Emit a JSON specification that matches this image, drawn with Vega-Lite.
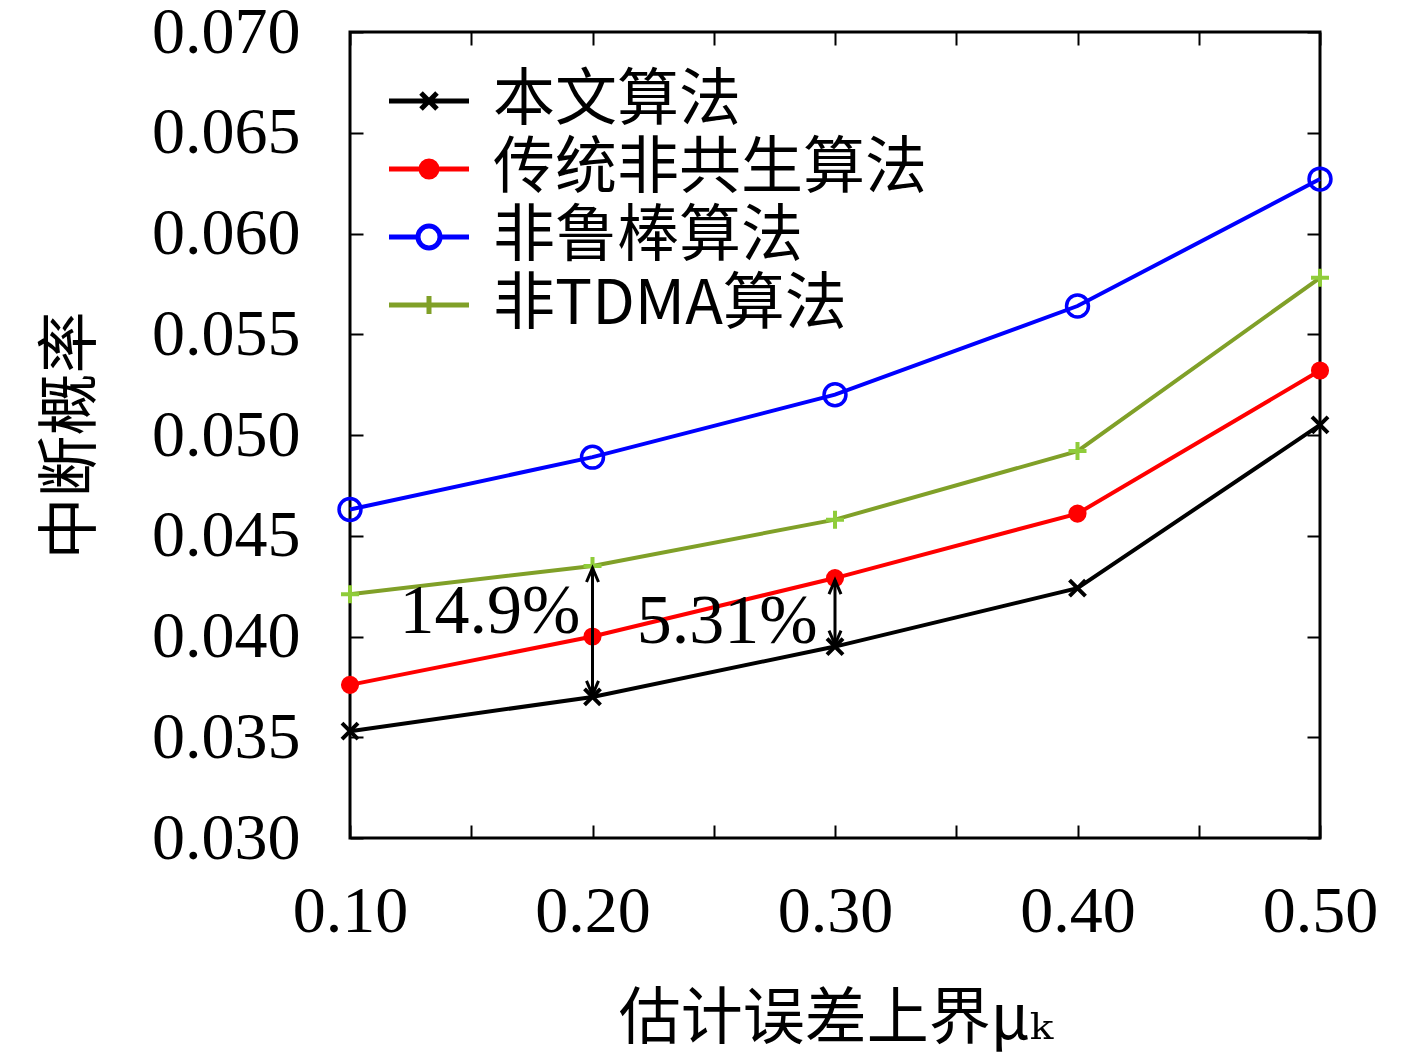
{
  "$schema": "https://vega.github.io/schema/vega-lite/v6.json",
  "width": 970,
  "height": 806,
  "autosize": "none",
  "padding": {"left": 350, "top": 32, "right": 97, "bottom": 220},
  "background": "white",
  "config": {
    "view": {"stroke": "black", "strokeWidth": 3},
    "axis": {
      "domain": false,
      "grid": false,
      "ticks": true,
      "tickColor": "black",
      "tickWidth": 2,
      "tickSize": -13,
      "labelFont": "Liberation Serif",
      "labelFontSize": 66,
      "labelColor": "black",
      "titleFont": "Noto Sans CJK SC, DejaVu Serif",
      "titleFontSize": 62,
      "titleFontWeight": "normal",
      "titleColor": "black"
    }
  },
  "datasets": {
    "main": [
      {"x": 0.1, "y": 0.0353, "s": "本文算法"},
      {"x": 0.2, "y": 0.0370, "s": "本文算法"},
      {"x": 0.3, "y": 0.0395, "s": "本文算法"},
      {"x": 0.4, "y": 0.0424, "s": "本文算法"},
      {"x": 0.5, "y": 0.0505, "s": "本文算法"},
      {"x": 0.1, "y": 0.0376, "s": "传统非共生算法"},
      {"x": 0.2, "y": 0.0400, "s": "传统非共生算法"},
      {"x": 0.3, "y": 0.0429, "s": "传统非共生算法"},
      {"x": 0.4, "y": 0.0461, "s": "传统非共生算法"},
      {"x": 0.5, "y": 0.0532, "s": "传统非共生算法"},
      {"x": 0.1, "y": 0.0463, "s": "非鲁棒算法"},
      {"x": 0.2, "y": 0.0489, "s": "非鲁棒算法"},
      {"x": 0.3, "y": 0.0520, "s": "非鲁棒算法"},
      {"x": 0.4, "y": 0.0564, "s": "非鲁棒算法"},
      {"x": 0.5, "y": 0.0627, "s": "非鲁棒算法"},
      {"x": 0.1, "y": 0.0421, "s": "非TDMA算法"},
      {"x": 0.2, "y": 0.0435, "s": "非TDMA算法"},
      {"x": 0.3, "y": 0.0458, "s": "非TDMA算法"},
      {"x": 0.4, "y": 0.0492, "s": "非TDMA算法"},
      {"x": 0.5, "y": 0.0578, "s": "非TDMA算法"}
    ],
    "arrows": [
      {"x": 0.2, "y": 0.0371, "y2": 0.0434},
      {"x": 0.3, "y": 0.0396, "y2": 0.0428}
    ],
    "notes": [
      {"x": 0.1577, "y": 0.0412, "t": "14.9%"},
      {"x": 0.2555, "y": 0.0407, "t": "5.31%"}
    ]
  },
  "resolve": {"axis": {"x": "independent", "y": "independent"}},
  "layer": [
    {
      "data": {"name": "main"},
      "mark": {"type": "line", "strokeWidth": 4},
      "encoding": {
        "x": {
          "field": "x", "type": "quantitative",
          "scale": {"domain": [0.1, 0.5], "nice": false, "zero": false},
          "axis": {
            "orient": "bottom",
            "values": [0.1, 0.15, 0.2, 0.25, 0.3, 0.35, 0.4, 0.45, 0.5],
            "labelExpr": "(round(datum.value*100) % 10 == 0) ? format(datum.value, '.2f') : ''",
            "labelPadding": 54,
            "labelFlush": false,
            "title": "估计误差上界μₖ",
            "titlePadding": 45
          }
        },
        "y": {
          "field": "y", "type": "quantitative",
          "scale": {"domain": [0.03, 0.07], "nice": false, "zero": false},
          "axis": {
            "orient": "left",
            "values": [0.03, 0.035, 0.04, 0.045, 0.05, 0.055, 0.06, 0.065, 0.07],
            "format": ".3f",
            "labelPadding": 63,
            "labelFlush": false,
            "title": "中断概率",
            "titlePadding": 48
          }
        },
        "color": {
          "field": "s", "type": "nominal",
          "scale": {
            "domain": ["本文算法", "传统非共生算法", "非鲁棒算法", "非TDMA算法"],
            "range": ["#000000", "#ff0000", "#0000ff", "#80a028"]
          },
          "legend": {
            "title": null,
            "orient": "none",
            "legendX": 48,
            "legendY": 38,
            "padding": 0,
            "symbolSize": 1600,
            "symbolStrokeWidth": 5,
            "labelFont": "Noto Sans CJK SC, Liberation Serif",
            "labelFontSize": 62,
            "labelColor": "black",
            "labelOffset": 33,
            "rowPadding": 6,
            "labelLimit": 1000,
            "encode": {
              "symbols": {
                "update": {
                  "shape": {"signal": "datum.value === '本文算法' ? 'M-2,0H2M-0.4,-0.4L0.4,0.4M-0.4,0.4L0.4,-0.4' : datum.value === '传统非共生算法' ? 'M-2,0H2M0.4,0A0.4,0.4,0,1,1,-0.4,0A0.4,0.4,0,1,1,0.4,0Z' : datum.value === '非鲁棒算法' ? 'M-2,0H-0.55M0.55,0H2M0.55,0A0.55,0.55,0,1,1,-0.55,0A0.55,0.55,0,1,1,0.55,0Z' : 'M-2,0H2M0,-0.45V0.45'"},
                  "fill": {"signal": "datum.value === '传统非共生算法' ? '#ff0000' : 'transparent'"},
                  "strokeWidth": {"value": 5},
                  "size": {"value": 1600}
                }
              }
            }
          }
        }
      }
    },
    {
      "data": {"name": "main"},
      "transform": [{"filter": "datum.s === '本文算法'"}],
      "mark": {"type": "point", "shape": "M-1,-1L1,1M-1,1L1,-1", "size": 256, "stroke": "#000000", "strokeWidth": 4, "filled": false, "opacity": 1},
      "encoding": {
        "x": {"field": "x", "type": "quantitative", "axis": {"orient": "top", "values": [0.1, 0.15, 0.2, 0.25, 0.3, 0.35, 0.4, 0.45, 0.5], "labels": false, "title": null}},
        "y": {"field": "y", "type": "quantitative", "axis": {"orient": "right", "values": [0.03, 0.035, 0.04, 0.045, 0.05, 0.055, 0.06, 0.065, 0.07], "labels": false, "title": null}}
      }
    },
    {
      "data": {"name": "main"},
      "transform": [{"filter": "datum.s === '传统非共生算法'"}],
      "mark": {"type": "point", "shape": "circle", "size": 260, "stroke": "#ff0000", "fill": "#ff0000", "filled": true, "opacity": 1},
      "encoding": {
        "x": {"field": "x", "type": "quantitative", "axis": null},
        "y": {"field": "y", "type": "quantitative", "axis": null}
      }
    },
    {
      "data": {"name": "main"},
      "transform": [{"filter": "datum.s === '非鲁棒算法'"}],
      "mark": {"type": "point", "shape": "circle", "size": 480, "stroke": "#0000ff", "strokeWidth": 3.5, "filled": false, "opacity": 1},
      "encoding": {
        "x": {"field": "x", "type": "quantitative", "axis": null},
        "y": {"field": "y", "type": "quantitative", "axis": null}
      }
    },
    {
      "data": {"name": "main"},
      "transform": [{"filter": "datum.s === '非TDMA算法'"}],
      "mark": {"type": "point", "shape": "M-1,0H1M0,-1V1", "size": 324, "stroke": "#8fcc3a", "strokeWidth": 4, "filled": false, "opacity": 1},
      "encoding": {
        "x": {"field": "x", "type": "quantitative", "axis": null},
        "y": {"field": "y", "type": "quantitative", "axis": null}
      }
    },
    {
      "data": {"name": "arrows"},
      "mark": {"type": "rule", "strokeWidth": 3, "color": "black"},
      "encoding": {
        "x": {"field": "x", "type": "quantitative", "axis": null},
        "y": {"field": "y", "type": "quantitative", "axis": null},
        "y2": {"field": "y2"}
      }
    },
    {
      "data": {"name": "arrows"},
      "mark": {"type": "point", "shape": "M-0.6,-1.4L0,0L0.6,-1.4", "size": 400, "stroke": "black", "strokeWidth": 3, "filled": false, "opacity": 1},
      "encoding": {
        "x": {"field": "x", "type": "quantitative", "axis": null},
        "y": {"field": "y", "type": "quantitative", "axis": null}
      }
    },
    {
      "data": {"name": "arrows"},
      "mark": {"type": "point", "shape": "M-0.6,1.4L0,0L0.6,1.4", "size": 400, "stroke": "black", "strokeWidth": 3, "filled": false, "opacity": 1},
      "encoding": {
        "x": {"field": "x", "type": "quantitative", "axis": null},
        "y": {"field": "y2", "type": "quantitative", "axis": null}
      }
    },
    {
      "data": {"name": "notes"},
      "mark": {"type": "text", "font": "Liberation Serif", "fontSize": 70, "color": "black", "align": "center", "baseline": "middle"},
      "encoding": {
        "x": {"field": "x", "type": "quantitative", "axis": null},
        "y": {"field": "y", "type": "quantitative", "axis": null},
        "text": {"field": "t"}
      }
    }
  ]
}
